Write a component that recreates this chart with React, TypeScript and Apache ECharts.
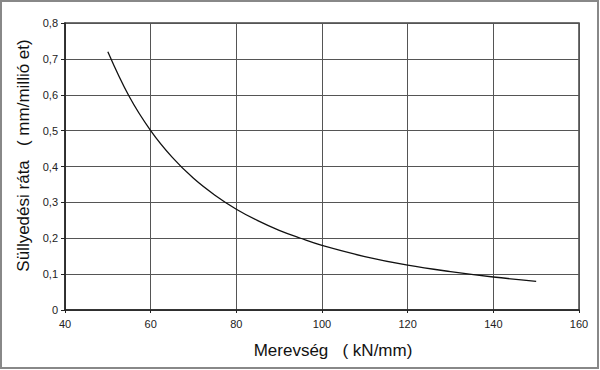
import React, { useEffect, useRef } from "react";
import * as echarts from "echarts";

const stiffness = [50, 55, 60, 65, 70, 75, 80, 85, 90, 95, 100, 110, 120, 130, 140, 150];
const settlementRate = [0.72, 0.595, 0.5, 0.426, 0.367, 0.32, 0.281, 0.249, 0.222, 0.2, 0.18, 0.149, 0.125, 0.107, 0.092, 0.08];
const xTitle = "Merevség   ( kN/mm)";
const yTitle = "Süllyedési ráta   ( mm/millió et)";

export default function App() {
  const ref = useRef<HTMLDivElement>(null);
  useEffect(() => {
    if (!ref.current) return;
    const chart = echarts.init(ref.current, null, { renderer: "svg" });
    const font = "Liberation Sans, Arial, sans-serif";
    chart.setOption({
      animation: false,
      backgroundColor: "#fff",
      grid: {
        left: 65,
        right: 21,
        top: 23,
        bottom: 60,
        show: true,
        borderColor: "#444",
        borderWidth: 1.5,
      },
      graphic: [
        {
          type: "rect",
          shape: { x: 1, y: 1, width: 597, height: 367 },
          style: { fill: "none", stroke: "#888", lineWidth: 2 },
          silent: true,
        },
      ],
      xAxis: {
        type: "value",
        min: 40,
        max: 160,
        interval: 20,
        name: xTitle,
        nameLocation: "middle",
        nameGap: 32,
        nameTextStyle: { fontFamily: font, fontSize: 17, color: "#111", padding: [0, 0, 0, 22] },
        axisLine: { show: true, lineStyle: { color: "#222", width: 1.5 } },
        axisTick: { show: true, length: 3, lineStyle: { color: "#222" } },
        axisLabel: { fontFamily: font, fontSize: 11, color: "#222", margin: 8 },
        splitLine: { show: true, lineStyle: { color: "#555", width: 1 } },
      },
      yAxis: {
        type: "value",
        min: 0,
        max: 0.8,
        interval: 0.1,
        name: yTitle,
        nameLocation: "middle",
        nameGap: 30,
        nameTextStyle: { fontFamily: font, fontSize: 17, color: "#111", padding: [0, 0, 0, 22] },
        axisLine: { show: true, lineStyle: { color: "#222", width: 1.5 } },
        axisTick: { show: true, length: 4, lineStyle: { color: "#222" } },
        axisLabel: {
          fontFamily: font,
          fontSize: 11,
          color: "#222",
          margin: 7,
          formatter: (v: number) => (v === 0 ? "0" : v.toFixed(1).replace(".", ",")),
        },
        splitLine: { show: true, lineStyle: { color: "#555", width: 1 } },
      },
      series: [
        {
          type: "line",
          data: stiffness.map((x, i) => [x, settlementRate[i]]),
          smooth: 0.4,
          showSymbol: false,
          lineStyle: { color: "#111", width: 1.3 },
        },
      ],
    });
    return () => chart.dispose();
  }, []);
  return (
    <div
      ref={ref}
      style={{ position: "fixed", left: 0, top: 0, width: 600, height: 370 }}
    />
  );
}
